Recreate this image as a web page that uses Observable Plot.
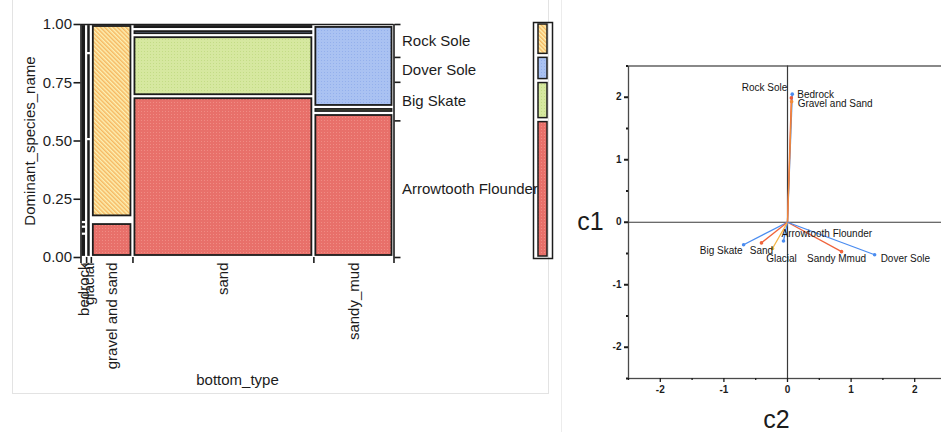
<!DOCTYPE html>
<html>
<head>
<meta charset="utf-8">
<script src="https://cdn.jsdelivr.net/npm/d3@7"></script>
<script src="https://cdn.jsdelivr.net/npm/@observablehq/plot@0.6"></script>
<style>
  html, body { margin: 0; padding: 0; background: #fff; width: 941px; height: 432px; overflow: hidden; position: relative; }
  .panel { position: absolute; box-sizing: border-box; }
  #mosaic-panel { left: 12px; top: -2px; width: 537px; height: 396px; border: 1px solid #e3e3e3; }
  #biplot-panel { left: 561px; top: -2px; width: 400px; height: 440px; border-left: 1px solid #ececec; }
  svg.chart { position: absolute; overflow: visible; }
</style>
</head>
<body>
<div class="panel" id="mosaic-panel"></div>
<div class="panel" id="biplot-panel"></div>

<!-- fill textures for the species cells -->
<svg width="0" height="0" style="position:absolute">
  <defs>
    <pattern id="fill-arrowtooth" width="3" height="3" patternUnits="userSpaceOnUse">
      <rect width="3" height="3" fill="#e8706a"/>
      <rect width="1" height="1" fill="#f08c84"/>
    </pattern>
    <pattern id="fill-bigskate" width="3" height="3" patternUnits="userSpaceOnUse">
      <rect width="3" height="3" fill="#d6e8a0"/>
      <rect width="1" height="1" fill="#c3dc86"/>
    </pattern>
    <pattern id="fill-dover" width="3" height="3" patternUnits="userSpaceOnUse">
      <rect width="3" height="3" fill="#aac2f2"/>
      <rect width="1" height="1" fill="#94b0ec"/>
    </pattern>
    <pattern id="fill-rocksole" width="3" height="3" patternUnits="userSpaceOnUse" patternTransform="rotate(-45)">
      <rect width="3" height="3" fill="#fdf1b4"/>
      <rect width="1.5" height="3" fill="#f6b862"/>
    </pattern>
  </defs>
</svg>

<script>
// ---- Mosaic: dominant species by bottom type ----
const bottomTypes = ["bedrock", "glacial", "gravel and sand", "sand", "sandy_mud"];
const bottomShare = [0.018, 0.015, 0.133, 0.578, 0.256];
const speciesNames = ["Arrowtooth Flounder", "Big Skate", "Dover Sole", "Rock Sole"];
// share of each species within each bottom type (same order as bottomTypes)
const arrowtoothShare = [0.10, 0.506, 0.15, 0.690, 0.618];
const bigSkateShare   = [0.03, 0.369, 0.01, 0.262, 0.026];
const doverSoleShare  = [0.02, 0.000, 0.01, 0.026, 0.352];
const rockSoleShare   = [0.85, 0.125, 0.83, 0.022, 0.004];
const proportionTicks = [0, 0.25, 0.5, 0.75, 1];

// ---- Biplot of the first two correspondence axes ----
const biplotLabels = ["Rock Sole", "Bedrock", "Gravel and Sand", "Arrowtooth Flounder", "Big Skate", "Sand", "Glacial", "Sandy Mmud", "Dover Sole"];
const biplotC2 = [0.075, 0.060, 0.065, -0.063, -0.69, -0.41, -0.236, 0.85, 1.37];
const biplotC1 = [2.05, 1.99, 1.93, -0.30, -0.36, -0.33, -0.42, -0.47, -0.52];
const biplotKind = ["species", "bottom", "bottom", "species", "species", "bottom", "bottom", "bottom", "species"];
const componentTicks = [-2, -1, 0, 1, 2];
const componentMinorTicks = [-2.5, -1.5, -0.5, 0.5, 1.5, 2.5];

const FONT = "'Liberation Sans', Arial, Helvetica, sans-serif";
const INK = "#1c1c1c";
const speciesFill = {
  "Arrowtooth Flounder": "url(#fill-arrowtooth)",
  "Big Skate": "url(#fill-bigskate)",
  "Dover Sole": "url(#fill-dover)",
  "Rock Sole": "url(#fill-rocksole)"
};
const shareBySpecies = [arrowtoothShare, bigSkateShare, doverSoleShare, rockSoleShare];

// build the mosaic cells: columns by bottom type, stacked species within
const cells = [];
const columnBounds = [0];
const columnMids = [];
let xa = 0;
bottomTypes.forEach((bottom, i) => {
  let ya = 0;
  shareBySpecies.forEach((shares, j) => {
    const v = shares[i];
    if (v > 0) cells.push({bottom, species: speciesNames[j], x1: xa, x2: xa + bottomShare[i], y1: ya, y2: ya + v});
    ya += v;
  });
  columnMids.push(xa + bottomShare[i] / 2);
  xa += bottomShare[i];
  columnBounds.push(xa);
});
const bottomAt = new Map(columnMids.map((m, i) => [m, bottomTypes[i]]));

// overall species shares, weighted by column width
const overall = speciesNames.map((s, j) => d3.sum(bottomShare, (w, i) => w * shareBySpecies[j][i]));
const total = d3.sum(overall);
const marginals = [];
const speciesBounds = [0];
const speciesMids = [];
let yb = 0;
speciesNames.forEach((species, j) => {
  const v = overall[j] / total;
  marginals.push({species, y1: yb, y2: yb + v});
  speciesMids.push(yb + v / 2);
  yb += v;
  speciesBounds.push(yb);
});
const speciesAt = new Map(speciesMids.map((m, j) => [m, speciesNames[j]]));

const cellStyle = {stroke: INK, strokeWidth: 1.8, insetLeft: 2, insetRight: 2, insetTop: 2, insetBottom: 2};

const mosaic = Plot.plot({
  width: 532,
  height: 392,
  marginLeft: 80.5,
  marginRight: 138.5,
  marginTop: 24,
  marginBottom: 135,
  x: {domain: [0, 1]},
  y: {domain: [0, 1]},
  style: {fontFamily: FONT, fontSize: "15px", color: INK, background: "transparent"},
  marks: [
    ...speciesNames.map(s => Plot.rect(cells.filter(d => d.species === s), {
      x1: "x1", x2: "x2", y1: "y1", y2: "y2", fill: speciesFill[s], ...cellStyle
    })),
    Plot.ruleX([0, 1], {stroke: INK, strokeWidth: 1.6}),
    Plot.ruleY([1], {stroke: INK, strokeWidth: 1.6}),
    Plot.axisY({
      anchor: "left", ticks: proportionTicks, tickFormat: ".2f", tickSize: 7, tickPadding: 2,
      fontSize: 15, strokeWidth: 1.6,
      label: "Dominant_species_name", labelAnchor: "center", labelOffset: 57, labelArrow: "none"
    }),
    Plot.axisY({anchor: "right", ticks: speciesBounds, tickSize: 6, tickFormat: () => "", strokeWidth: 1.6, label: null}),
    Plot.axisY({anchor: "right", ticks: speciesMids, tickSize: 0, tickPadding: 8, tickFormat: d => speciesAt.get(d), fontSize: 15, label: null}),
    Plot.axisX({anchor: "bottom", ticks: columnBounds, tickSize: 6, tickFormat: () => "", strokeWidth: 1.6, label: null}),
    Plot.axisX({
      anchor: "bottom", ticks: columnMids, tickSize: 0, tickPadding: 5, tickRotate: -90,
      tickFormat: d => bottomAt.get(d), fontSize: 15,
      label: "bottom_type", labelAnchor: "center", labelOffset: 127, labelArrow: "none"
    })
  ]
});
mosaic.classList.add("chart");
mosaic.style.left = "0px";
mosaic.style.top = "0px";
document.body.appendChild(mosaic);

// colour key: overall species shares
const key = Plot.plot({
  width: 21,
  height: 238,
  margin: 1,
  x: {axis: null},
  y: {domain: [0, 1], axis: null},
  style: {background: "transparent"},
  marks: [
    Plot.frame({stroke: INK, strokeWidth: 1.5}),
    ...speciesNames.map(s => Plot.rect(marginals.filter(d => d.species === s), {
      y1: "y1", y2: "y2", fill: speciesFill[s], stroke: INK, strokeWidth: 1.5,
      insetLeft: 5, insetRight: 5, insetTop: 2, insetBottom: 2
    }))
  ]
});
key.classList.add("chart");
key.style.left = "532px";
key.style.top = "21px";
document.body.appendChild(key);

// ---- biplot ----
const vectors = biplotLabels.map((label, i) => ({label, c2: biplotC2[i], c1: biplotC1[i], kind: biplotKind[i]}));
const vectorColors = {
  "Rock Sole": "#4a8cf0", "Arrowtooth Flounder": "#4a8cf0", "Big Skate": "#4a8cf0", "Dover Sole": "#4a8cf0",
  "Bedrock": "#ee5a3c", "Gravel and Sand": "#f08a3a", "Sand": "#f0643c", "Glacial": "#f5b444", "Sandy Mmud": "#f0643c"
};
const labelPlacement = {
  "Rock Sole": {textAnchor: "end", dx: -5, dy: -6},
  "Bedrock": {textAnchor: "start", dx: 6, dy: -3.5},
  "Gravel and Sand": {textAnchor: "start", dx: 6, dy: 2.5},
  "Arrowtooth Flounder": {textAnchor: "start", dx: -2, dy: -7},
  "Big Skate": {textAnchor: "end", dx: -1, dy: 6},
  "Sand": {textAnchor: "middle", dx: 0, dy: 8},
  "Glacial": {textAnchor: "middle", dx: 9, dy: 10},
  "Sandy Mmud": {textAnchor: "middle", dx: -5, dy: 7},
  "Dover Sole": {textAnchor: "start", dx: 6, dy: 4}
};
const plainNumber = d => String(d);

const biplot = Plot.plot({
  width: 400,
  height: 432,
  marginLeft: 68,
  marginRight: 14,
  marginTop: 65.5,
  marginBottom: 54,
  x: {domain: [-2.5, 2.5]},
  y: {domain: [-2.5, 2.5]},
  color: {domain: biplotLabels, range: biplotLabels.map(l => vectorColors[l])},
  style: {fontFamily: FONT, color: INK, background: "transparent"},
  marks: [
    Plot.frame({stroke: "#4a4a4a", strokeWidth: 1.3}),
    Plot.ruleY([0], {stroke: "#3a3a3a", strokeWidth: 1.2}),
    Plot.ruleX([0], {stroke: "#3a3a3a", strokeWidth: 1.2}),
    Plot.axisY({ticks: componentTicks, tickSize: 4, tickPadding: 3, tickFormat: plainNumber, fontSize: 10, fontWeight: "bold", strokeWidth: 2, label: null}),
    Plot.axisY({ticks: componentMinorTicks, tickSize: 2, tickFormat: () => "", strokeWidth: 2, label: null}),
    Plot.axisX({ticks: componentTicks, tickSize: 4, tickPadding: 3, tickFormat: plainNumber, fontSize: 10, fontWeight: "bold", strokeWidth: 1.3, label: null}),
    Plot.axisX({ticks: componentMinorTicks, tickSize: 2, tickFormat: () => "", strokeWidth: 1.3, label: null}),
    Plot.link(vectors, {x1: () => 0, y1: () => 0, x2: "c2", y2: "c1", stroke: "label", strokeWidth: 1.3}),
    Plot.dot(vectors, {x: "c2", y: "c1", r: 1.8, fill: "label"}),
    ...vectors.map(v => Plot.text([v], {
      x: "c2", y: "c1", text: "label", fontSize: 10, fill: "#151515", ...labelPlacement[v.label]
    })),
    Plot.text(["c1"], {text: d => d, frameAnchor: "left", textAnchor: "middle", lineAnchor: "middle", dx: -38, fontSize: 25}),
    Plot.text(["c2"], {text: d => d, frameAnchor: "bottom", textAnchor: "middle", lineAnchor: "middle", dx: -11, dy: 41, fontSize: 25})
  ]
});
biplot.classList.add("chart");
biplot.style.left = "560px";
biplot.style.top = "0px";
document.body.appendChild(biplot);
</script>
</body>
</html>
